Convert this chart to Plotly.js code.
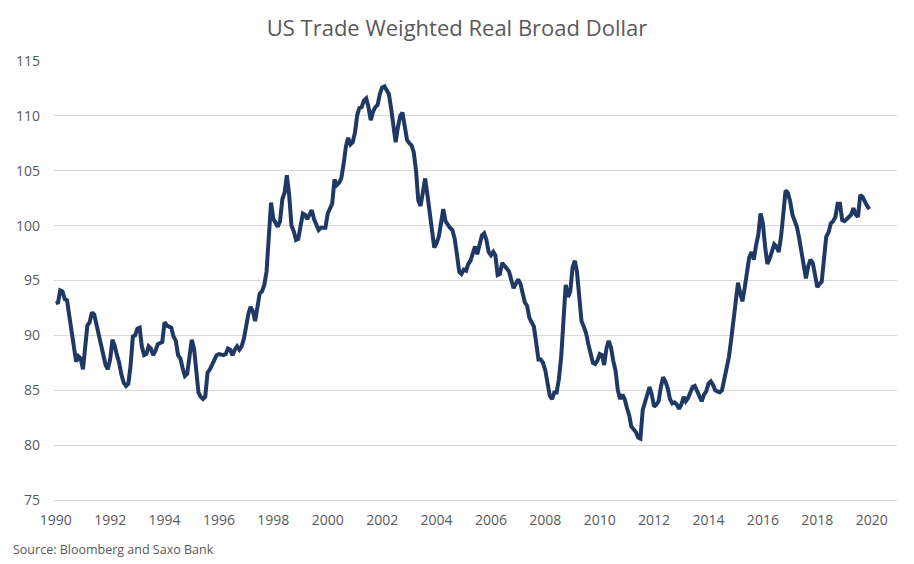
<!DOCTYPE html>
<html>
<head>
<meta charset="utf-8">
<script src="https://cdn.plot.ly/plotly-3.0.1.min.js"></script>
<style>
  html, body { margin: 0; padding: 0; background: #ffffff; }
  #chart { width: 914px; height: 564px; }
</style>
</head>
<body>
<div id="chart"></div>
<script>
// Monthly index values, January 1990 – December 2019
const startYear = 1990;

const values1990s = [
  92.9, 93.0, 94.1, 94.0, 93.3, 93.2, 91.8, 90.2, 88.6, 87.6, 88.1, 87.9,   // 1990
  86.9, 89.2, 90.9, 91.2, 92.1, 91.9, 91.0, 90.0, 89.2, 88.5, 87.3, 86.9,   // 1991
  87.8, 89.6, 89.1, 88.2, 87.5, 86.4, 85.7, 85.4, 85.6, 87.2, 89.9, 90.0,   // 1992
  90.6, 90.7, 89.0, 88.2, 88.3, 89.0, 88.8, 88.2, 88.6, 89.2, 89.3, 89.4,   // 1993
  91.2, 90.9, 90.8, 90.7, 89.9, 89.5, 88.2, 87.9, 87.0, 86.3, 86.5, 88.0,   // 1994
  89.6, 88.8, 86.9, 84.8, 84.4, 84.2, 84.4, 86.6, 86.9, 87.4, 87.8, 88.2,   // 1995
  88.3, 88.2, 88.2, 88.3, 88.8, 88.7, 88.2, 88.7, 89.0, 88.7, 89.0, 89.7,   // 1996
  91.0, 92.0, 92.6, 92.2, 91.3, 92.5, 93.8, 94.0, 94.6, 95.8, 98.8, 102.1,  // 1997
  100.6, 100.2, 99.9, 100.4, 102.4, 103.0, 104.6, 102.8, 100.0, 99.5, 98.7, 98.8, // 1998
  100.0, 101.1, 101.0, 100.6, 101.0, 101.4, 100.6, 100.1, 99.6, 99.8, 99.8, 99.8  // 1999
];

const values2000s = [
  101.1, 101.5, 102.0, 104.2, 103.7, 103.9, 104.3, 105.6, 107.2, 108.0, 107.4, 107.6, // 2000
  108.5, 110.1, 110.7, 110.8, 111.4, 111.6, 110.8, 109.6, 110.4, 110.8, 111.0, 112.0, // 2001
  112.6, 112.7, 112.3, 112.0, 110.7, 109.2, 107.6, 109.0, 110.0, 110.3, 109.0, 107.8, // 2002
  107.5, 107.3, 106.7, 105.0, 102.3, 101.8, 103.0, 104.3, 102.8, 100.8, 99.6, 98.0,   // 2003
  98.4, 99.0, 100.3, 101.5, 100.4, 100.0, 99.8, 99.6, 98.8, 97.4, 95.8, 95.6,        // 2004
  96.0, 95.9, 96.5, 96.8, 97.5, 98.1, 97.4, 98.3, 99.1, 99.3, 98.7, 97.6,            // 2005
  97.3, 97.6, 97.3, 95.5, 95.6, 96.6, 96.4, 96.1, 95.8, 95.1, 94.3, 94.7,            // 2006
  95.1, 94.7, 93.9, 93.0, 92.7, 91.6, 91.2, 90.8, 89.3, 87.8, 87.8, 87.5,            // 2007
  86.8, 85.5, 84.5, 84.2, 84.8, 84.8, 86.0, 88.0, 91.0, 94.6, 93.5, 94.0,            // 2008
  96.2, 96.8, 95.8, 93.0, 91.3, 90.8, 90.2, 89.2, 88.2, 87.5, 87.4, 87.7             // 2009
];

const values2010s = [
  88.3, 88.2, 87.3, 88.8, 89.5, 88.9, 87.7, 86.8, 85.0, 84.2, 84.6, 84.2,            // 2010
  83.4, 82.7, 81.7, 81.4, 81.2, 80.7, 80.6, 83.2, 84.0, 84.5, 85.3, 84.6,            // 2011
  83.5, 83.7, 84.0, 85.3, 86.2, 85.8, 85.2, 84.2, 83.8, 83.9, 83.7, 83.3,            // 2012
  83.7, 84.4, 84.0, 84.3, 84.7, 85.3, 85.4, 84.9, 84.4, 84.0, 84.6, 84.9,            // 2013
  85.6, 85.8, 85.5, 85.0, 84.9, 84.8, 85.0, 86.0, 87.1, 88.0, 89.6, 91.5,            // 2014
  93.5, 94.8, 93.9, 93.1, 94.3, 96.0, 97.1, 97.6, 96.9, 98.2, 99.2, 101.1,           // 2015
  100.2, 98.0, 96.5, 97.0, 97.7, 98.3, 98.1, 97.6, 99.0, 101.4, 103.2, 103.0,        // 2016
  102.2, 101.0, 100.4, 99.9, 98.9, 97.6, 96.2, 95.2, 96.3, 96.9, 96.6, 95.3,         // 2017
  94.4, 94.7, 94.9, 97.0, 99.0, 99.4, 100.2, 100.4, 100.8, 102.0, 102.0, 100.5,      // 2018
  100.4, 100.6, 100.8, 101.0, 101.6, 101.0, 100.8, 102.8, 102.6, 102.1, 101.8, 101.5 // 2019
];

const tickYears = [1990, 1992, 1994, 1996, 1998, 2000, 2002, 2004, 2006, 2008,
                   2010, 2012, 2014, 2016, 2018, 2020];
const yTicks = [75, 80, 85, 90, 95, 100, 105, 110, 115];

const chartTitle = 'US Trade Weighted Real Broad Dollar';
const sourceText = 'Source: Bloomberg and Saxo Bank';

// Build the series
const values = values1990s.concat(values2000s, values2010s);
const dates = values.map((v, i) => {
  const y = startYear + Math.floor(i / 12);
  const m = (i % 12) + 1;
  return y + '-' + (m < 10 ? '0' + m : m) + '-01';
});

const textColor = '#595959';
const gridColor = '#d9d9d9';
const fontFam = '"Open Sans", "Noto Sans", sans-serif';

const trace = {
  type: 'scatter',
  mode: 'lines',
  x: dates,
  y: values,
  line: { color: '#1f3864', width: 4, shape: 'linear' },
  hoverinfo: 'x+y',
  showlegend: false
};

const layout = {
  width: 914,
  height: 564,
  paper_bgcolor: '#ffffff',
  plot_bgcolor: '#ffffff',
  margin: { l: 54, r: 17, t: 61, b: 64 },
  font: { family: fontFam, color: textColor, size: 14 },
  title: {
    text: chartTitle,
    font: { family: fontFam, size: 22, color: textColor },
    xref: 'container', x: 0.5, xanchor: 'center',
    yref: 'container', y: 1 - 28 / 564, yanchor: 'middle'
  },
  xaxis: {
    type: 'date',
    range: ['1989-12-08', '2020-12-06'],
    tickvals: tickYears.map(y => y + '-01-01'),
    ticktext: tickYears.map(String),
    showgrid: false,
    zeroline: false,
    showline: true,
    linecolor: gridColor,
    linewidth: 1,
    ticks: '',
    ticklabelstandoff: 7,
    tickfont: { family: fontFam, size: 14, color: textColor }
  },
  yaxis: {
    range: [75, 115],
    tickvals: yTicks,
    ticktext: yTicks.map(String),
    showgrid: true,
    gridcolor: gridColor,
    gridwidth: 1,
    zeroline: false,
    showline: false,
    ticks: '',
    ticklabelstandoff: 13,
    tickfont: { family: fontFam, size: 14, color: textColor }
  },
  annotations: [{
    text: sourceText,
    xref: 'paper', yref: 'paper',
    x: (11 - 54) / 843, y: (500 - 549) / 439,
    xanchor: 'left', yanchor: 'middle',
    showarrow: false,
    font: { family: fontFam, size: 12.5, color: textColor }
  }]
};

Plotly.newPlot('chart', [trace], layout, { displayModeBar: false, staticPlot: true });
</script>
</body>
</html>
